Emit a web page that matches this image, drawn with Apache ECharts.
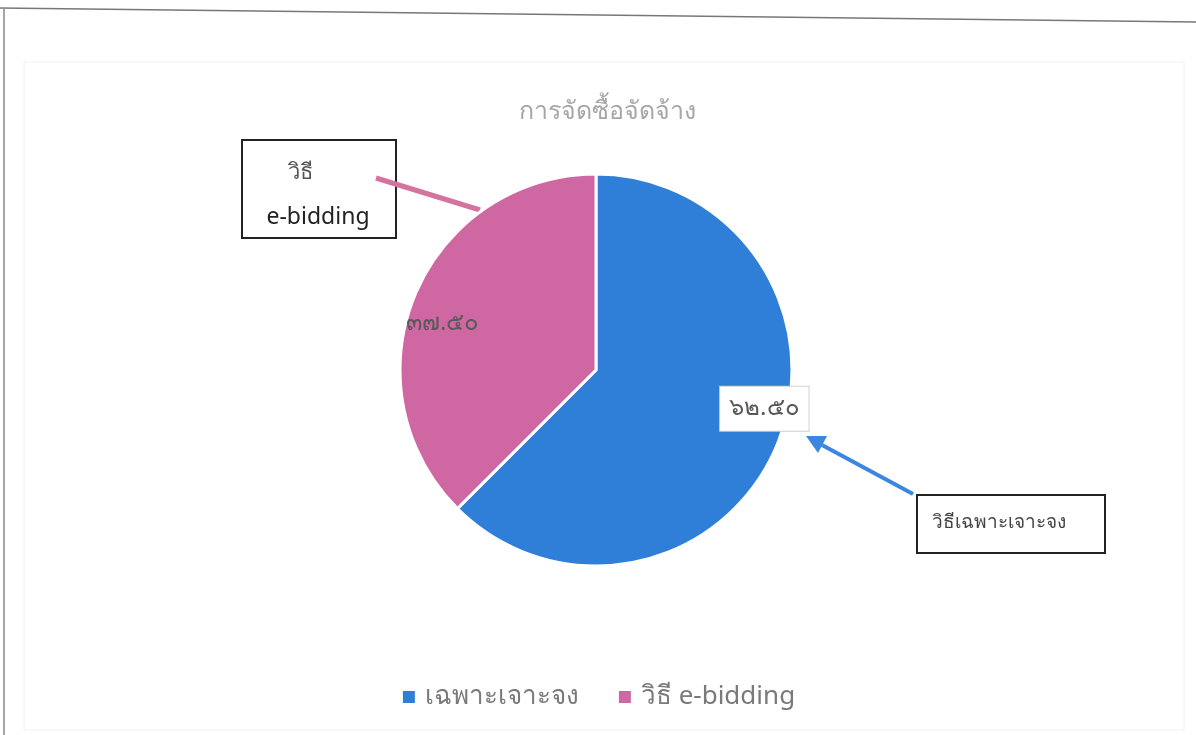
<!DOCTYPE html>
<html>
<head>
<meta charset="utf-8">
<script src="https://cdn.jsdelivr.net/npm/echarts@6/dist/echarts.min.js"></script>
<style>html,body{margin:0;padding:0;background:#fff}#c{width:1196px;height:735px}</style>
</head>
<body>
<div id="c"></div>
<script>
const titleText = 'การจัดซื้อจัดจ้าง';
const categories = ['เฉพาะเจาะจง', 'วิธี e-bidding'];
const values = [62.5, 37.5];
const colors = ['#2f7ed8', '#cf67a3'];
const thaiDigits = ['๐','๑','๒','๓','๔','๕','๖','๗','๘','๙'];
function toThai(v) { return v.toFixed(2).replace(/[0-9]/g, d => thaiDigits[+d]); }

const FONT = '"Noto Sans", "DejaVu Sans", sans-serif';
const chart = echarts.init(document.getElementById('c'));
chart.setOption({
  backgroundColor: '#fff',
  animation: false,
  title: {
    text: titleText, left: 602, top: 94, textAlign: 'center',
    textStyle: { color: '#a6a6a6', fontSize: 25, fontWeight: 'normal', fontFamily: FONT }
  },
  legend: {
    bottom: 20, left: 'center', icon: 'rect', itemWidth: 14, itemHeight: 14, itemGap: 38,
    textStyle: { color: '#7a7a7a', fontSize: 26, fontFamily: FONT, padding: [0, 0, 0, 4] },
    data: categories
  },
  series: [{
    type: 'pie',
    center: [596, 370],
    radius: 196,
    startAngle: 90,
    clockwise: true,
    itemStyle: { borderColor: '#fff', borderWidth: 3 },
    labelLine: { show: false },
    data: categories.map((n, i) => ({
      name: n, value: values[i], itemStyle: { color: colors[i] },
      label: i === 0 ? {
        show: true, position: 'inside', offset: [75, 0],
        formatter: p => toThai(p.value),
        color: '#595959', fontSize: 24, fontFamily: FONT,
        backgroundColor: '#fff', borderColor: '#d0d0d0', borderWidth: 1,
        padding: [10, 9]
      } : {
        show: true, position: 'inside', offset: [-60, -8],
        formatter: p => toThai(p.value),
        color: '#5a5a5a', fontSize: 24, fontFamily: FONT
      }
    }))
  }],
  graphic: [
    { type: 'line', shape: { x1: 0, y1: 8, x2: 1196, y2: 22 }, style: { stroke: '#777', lineWidth: 1.5 } },
    { type: 'line', shape: { x1: 4, y1: 9, x2: 4, y2: 735 }, style: { stroke: '#888', lineWidth: 1.5 } },
    { type: 'rect', shape: { x: 24, y: 62, width: 1160, height: 668 }, style: { fill: 'none', stroke: '#f0f0f0', lineWidth: 1 } },
    // e-bidding callout
    { type: 'rect', shape: { x: 242, y: 140, width: 154, height: 98 }, style: { fill: '#fff', stroke: '#222', lineWidth: 2 } },
    { type: 'line', shape: { x1: 376, y1: 178, x2: 480, y2: 210 }, style: { stroke: '#d5739f', lineWidth: 5 } },
    { type: 'text', x: 300, y: 173, style: { text: 'วิธี', fill: '#555', fontSize: 22, fontFamily: FONT, align: 'center', verticalAlign: 'middle' } },
    { type: 'text', x: 318, y: 217, style: { text: 'e-bidding', fill: '#222', fontSize: 23, fontFamily: FONT, align: 'center', verticalAlign: 'middle' } },
    // เฉพาะเจาะจง callout
    { type: 'line', shape: { x1: 913, y1: 494, x2: 822, y2: 445 }, style: { stroke: '#3a86e0', lineWidth: 4 } },
    { type: 'polygon', shape: { points: [[806, 436], [827, 436], [818, 453]] }, style: { fill: '#3a86e0' } },
    { type: 'rect', shape: { x: 917, y: 495, width: 188, height: 58 }, style: { fill: '#fff', stroke: '#222', lineWidth: 2 } },
    { type: 'text', x: 932, y: 523, style: { text: 'วิธีเฉพาะเจาะจง', fill: '#444', fontSize: 19, fontFamily: FONT, align: 'left', verticalAlign: 'middle' } }
  ]
});
</script>
</body>
</html>
